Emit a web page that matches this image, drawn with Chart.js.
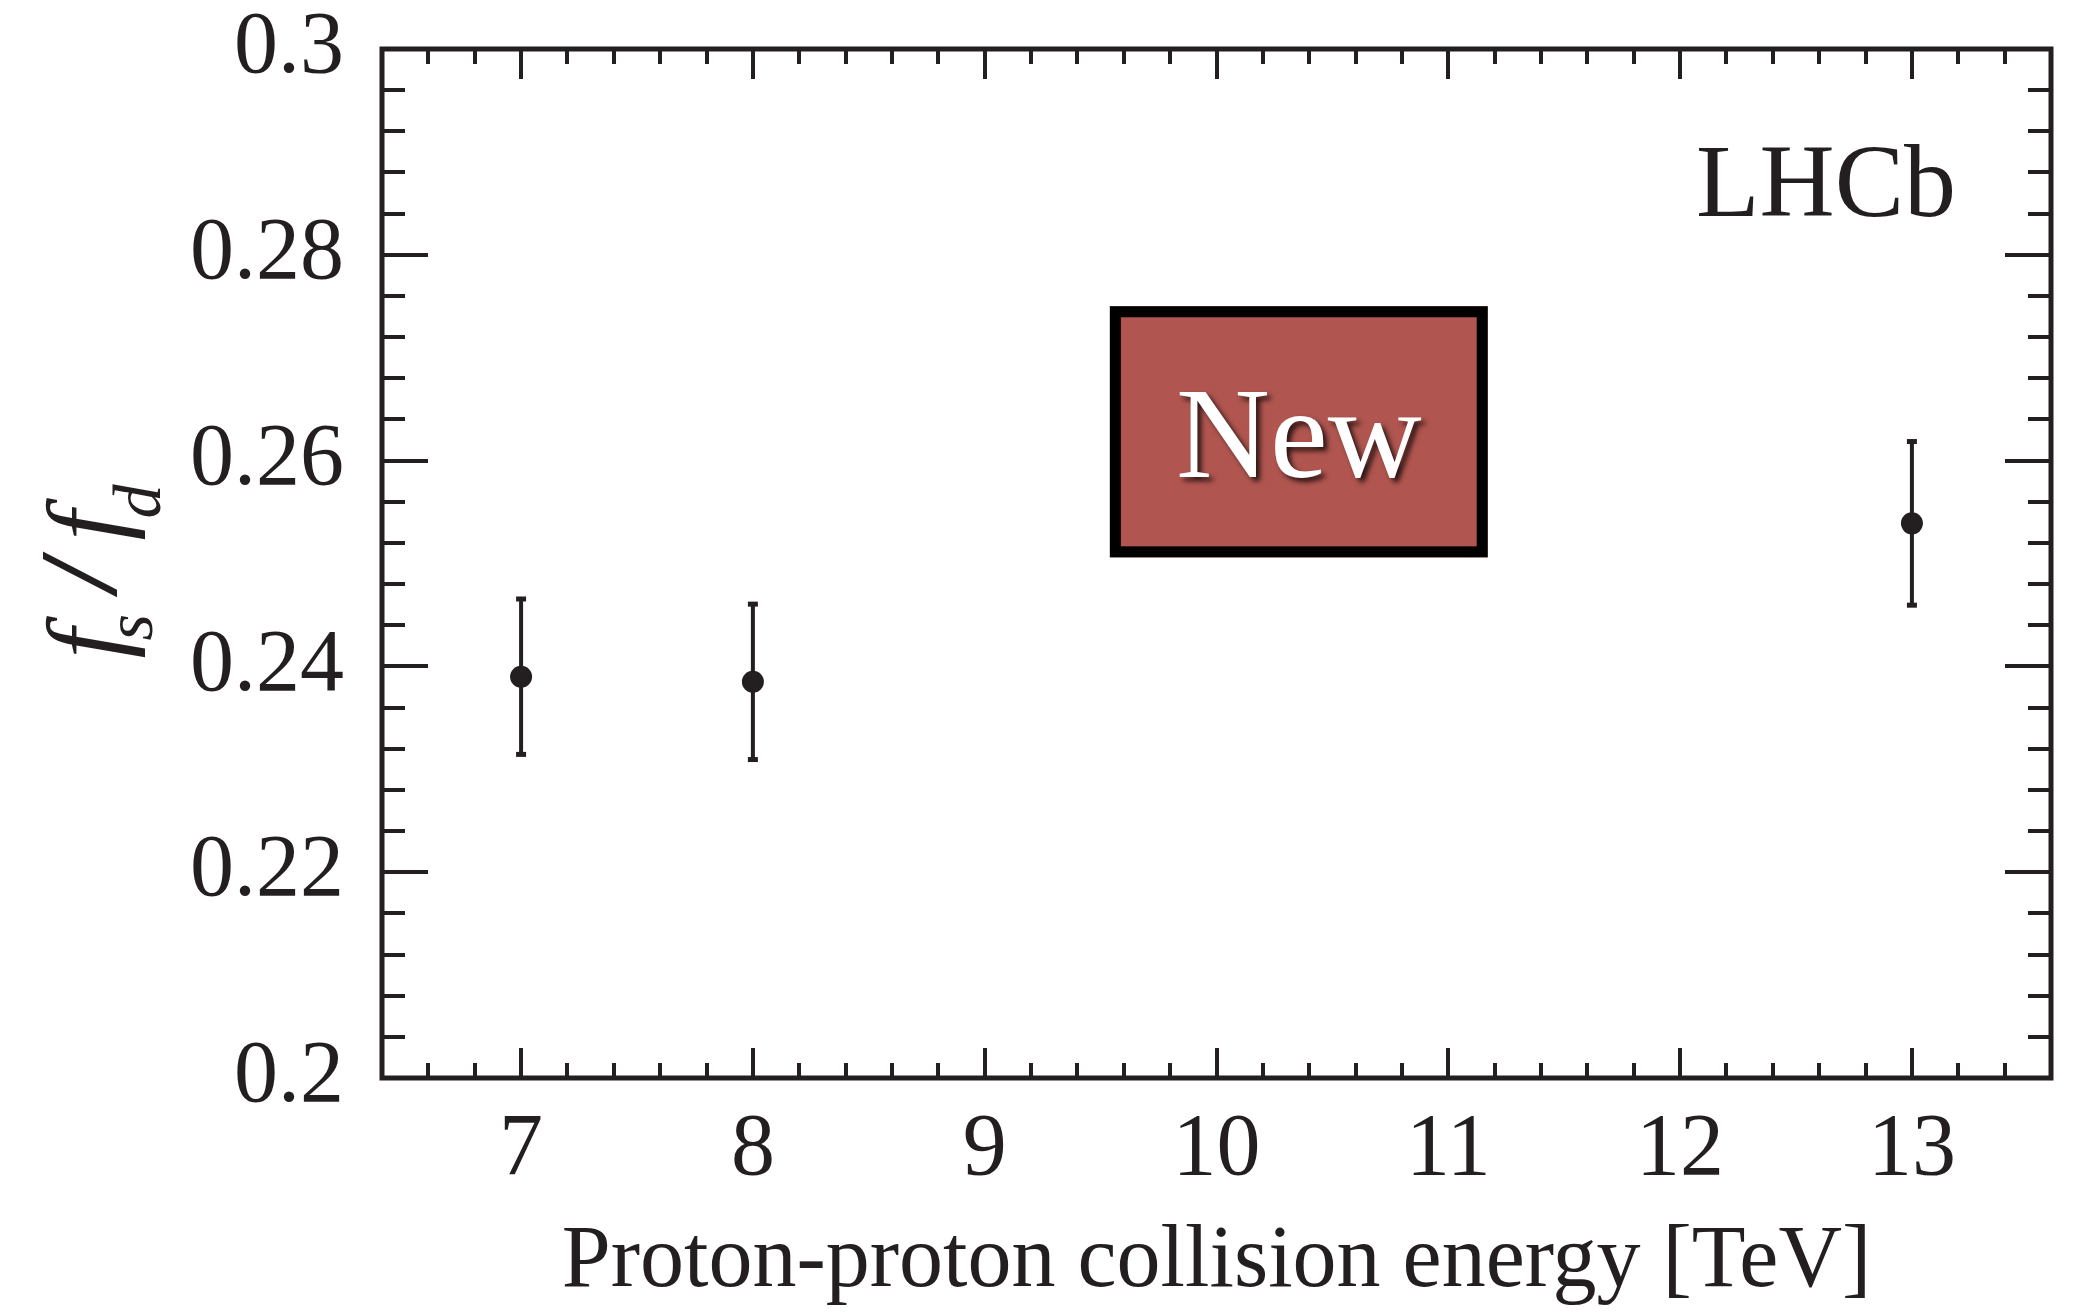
<!DOCTYPE html>
<html>
<head>
<meta charset="utf-8">
<script src="https://cdn.jsdelivr.net/npm/chart.js@4.4.1/dist/chart.umd.min.js"></script>
<style>
  html, body { margin: 0; padding: 0; background: #fff; overflow: hidden; }
  canvas { display: block; }
</style>
</head>
<body>
<canvas id="myChart" width="2075" height="1312"></canvas>
<script>
// measured f_s/f_d values per pp collision energy (TeV)
const energies = [7, 8, 13];
const fsfd = [0.2390, 0.2385, 0.2539];
const errUp = [0.0076, 0.0076, 0.0080];
const errDown = [0.0076, 0.0076, 0.0080];

const xTickLabels = [7, 8, 9, 10, 11, 12, 13];
const yTickLabels = [0.2, 0.22, 0.24, 0.26, 0.28, 0.3];

const INK = '#231f20';
const SERIF = "'Liberation Serif', serif";

// frame with inward ticks on all four sides (ROOT style)
const framePlugin = {
    id: 'frame',
    afterDraw(chart) {
        const { ctx, chartArea: a, scales: { x, y } } = chart;
        ctx.save();
        ctx.strokeStyle = INK;
        ctx.lineWidth = 4;
        ctx.beginPath();
        for (let i = 0; i <= 36; i++) {
            const v = x.min + i * 0.2;
            const major = Math.abs(v - Math.round(v)) < 1e-6;
            const len = major ? 30 : 15;
            const px = Math.round(x.getPixelForValue(v));
            ctx.moveTo(px, a.bottom); ctx.lineTo(px, a.bottom - len);
            ctx.moveTo(px, a.top); ctx.lineTo(px, a.top + len);
        }
        for (let i = 0; i <= 25; i++) {
            const v = y.min + i * 0.004;
            const major = i % 5 === 0;
            const len = major ? 46 : 23;
            const py = Math.round(y.getPixelForValue(v));
            ctx.moveTo(a.left, py); ctx.lineTo(a.left + len, py);
            ctx.moveTo(a.right, py); ctx.lineTo(a.right - len, py);
        }
        ctx.stroke();
        ctx.lineWidth = 5;
        ctx.strokeRect(a.left, a.top, a.right - a.left, a.bottom - a.top);
        ctx.restore();
    }
};

// vertical error bars with small caps
const errorBarPlugin = {
    id: 'errorBars',
    beforeDatasetsDraw(chart) {
        const { ctx, scales: { x, y } } = chart;
        ctx.save();
        ctx.strokeStyle = INK;
        ctx.fillStyle = INK;
        ctx.lineWidth = 4;
        energies.forEach((e, i) => {
            const px = x.getPixelForValue(e);
            const top = y.getPixelForValue(fsfd[i] + errUp[i]);
            const bot = y.getPixelForValue(fsfd[i] - errDown[i]);
            ctx.beginPath();
            ctx.moveTo(px, top);
            ctx.lineTo(px, bot);
            ctx.stroke();
            ctx.fillRect(px - 5, top - 2, 10, 5);
            ctx.fillRect(px - 5, bot - 3, 10, 5);
        });
        ctx.restore();
    }
};

// labels: y title with subscripts, LHCb tag and the "New" badge
const labelsPlugin = {
    id: 'labels',
    afterDraw(chart) {
        const { ctx, chartArea: a, scales: { x, y } } = chart;
        ctx.save();
        ctx.fillStyle = INK;

        // y axis title  f_s / f_d
        ctx.save();
        ctx.translate(122, (a.top + a.bottom) / 2 + 105);
        ctx.rotate(-Math.PI / 2);
        ctx.textBaseline = 'alphabetic';
        ctx.textAlign = 'left';
        ctx.font = 'italic 108px ' + SERIF;
        ctx.fillText('f', 10, 0);
        ctx.font = 'italic 68px ' + SERIF;
        ctx.fillText('s', 28, 30);
        ctx.font = 'italic bold 110px ' + SERIF;
        ctx.fillText('/', 78, -6);
        ctx.font = 'italic 108px ' + SERIF;
        ctx.fillText('f', 128, 0);
        ctx.font = 'italic 68px ' + SERIF;
        ctx.fillText('d', 150, 38);
        ctx.restore();

        // LHCb
        ctx.font = '104px ' + SERIF;
        ctx.textAlign = 'right';
        ctx.textBaseline = 'alphabetic';
        ctx.fillText('LHCb', a.right - 95, a.top + 167);

        // "New" badge
        const bx0 = x.getPixelForValue(9.54), bx1 = x.getPixelForValue(11.17);
        const by0 = y.getPixelForValue(0.275), by1 = y.getPixelForValue(0.2506);
        ctx.fillStyle = '#b0554f';
        ctx.fillRect(bx0, by0, bx1 - bx0, by1 - by0);
        ctx.strokeStyle = '#000';
        ctx.lineWidth = 11;
        ctx.strokeRect(bx0 + 5.5, by0 + 5.5, bx1 - bx0 - 11, by1 - by0 - 11);
        ctx.shadowColor = 'rgba(0,0,0,0.75)';
        ctx.shadowOffsetX = 4;
        ctx.shadowOffsetY = 4;
        ctx.shadowBlur = 5;
        ctx.fillStyle = '#ffffff';
        ctx.font = '130px ' + SERIF;
        ctx.textAlign = 'center';
        ctx.fillText('New', (bx0 + bx1) / 2, by0 + 171);
        ctx.restore();
    }
};

const tickFont = { family: SERIF, size: 88, lineHeight: 1 };

const ctx = document.getElementById('myChart').getContext('2d');
const myChart = new Chart(ctx, {
    type: 'scatter',
    data: {
        datasets: [{
            label: 'fs/fd',
            data: energies.map((e, i) => ({ x: e, y: fsfd[i] })),
            pointRadius: 11,
            pointHoverRadius: 11,
            backgroundColor: INK,
            borderWidth: 0,
            showLine: false
        }]
    },
    options: {
        responsive: false,
        animation: false,
        layout: { autoPadding: false, padding: { top: 49, right: 24, left: 0, bottom: 0 } },
        plugins: {
            legend: { display: false },
            tooltip: { enabled: false }
        },
        scales: {
            x: {
                type: 'linear',
                min: 6.4,
                max: 13.6,
                afterBuildTicks: s => { s.ticks = xTickLabels.map(v => ({ value: v })); },
                afterFit: s => { s.height = 234; s.paddingLeft = 0; s.paddingRight = 0; },
                grid: { display: false, drawTicks: false },
                border: { display: false },
                title: {
                    display: true,
                    text: 'Proton-proton collision energy [TeV]',
                    font: { family: SERIF, size: 88, lineHeight: 1 },
                    color: INK,
                    padding: { top: 40, bottom: 5 }
                },
                ticks: {
                    font: tickFont,
                    color: INK,
                    padding: 29,
                    maxRotation: 0,
                    autoSkip: false,
                    callback: v => String(v)
                }
            },
            y: {
                type: 'linear',
                min: 0.2,
                max: 0.3,
                afterBuildTicks: s => { s.ticks = yTickLabels.map(v => ({ value: v })); },
                afterFit: s => { s.width = 382; s.paddingTop = 0; s.paddingBottom = 0; },
                grid: { display: false, drawTicks: false },
                border: { display: false },
                ticks: {
                    font: tickFont,
                    color: INK,
                    padding: 38,
                    autoSkip: false,
                    callback: v => String(+v.toFixed(2))
                }
            }
        }
    },
    plugins: [errorBarPlugin, framePlugin, labelsPlugin]
});
</script>
</body>
</html>
